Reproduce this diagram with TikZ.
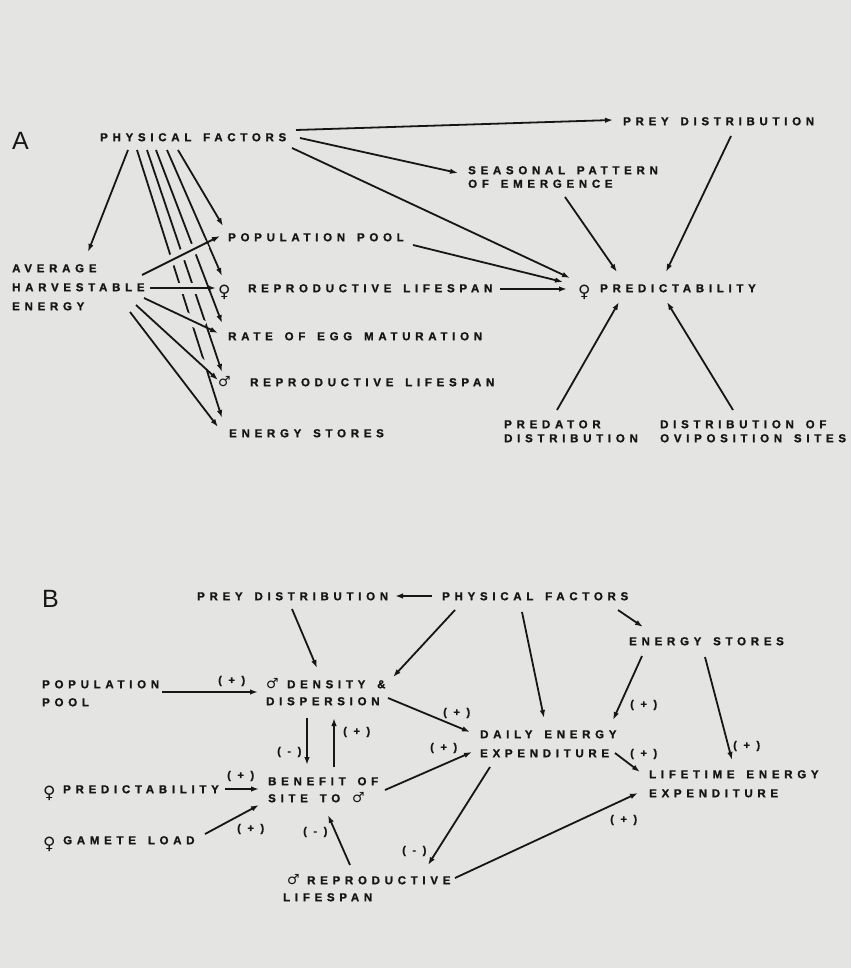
\documentclass[tikz,border=0pt]{standalone}
\usepackage{fontspec}
\setmainfont{Liberation Sans}
\newfontfamily\labfont{Liberation Sans Bold}[LetterSpace=41, FakeBold=1.2, WordSpace=1.5]
\newfontfamily\signfont{Liberation Sans Bold}[LetterSpace=60, FakeBold=1.2]
\newfontfamily\symfont{DejaVu Sans Bold}
\usetikzlibrary{arrows.meta}
\definecolor{bg}{HTML}{E4E4E2}
\definecolor{ink}{HTML}{161616}
\newcommand\femsign[1]{\makebox[#1][l]{\smash{\raisebox{-5.5pt}{\symfont\fontsize{17}{17}\selectfont ♀}}}}
\newcommand\malsign[1]{\makebox[#1][l]{\smash{\raisebox{-0.5pt}{\symfont\fontsize{14}{14}\selectfont ♂}}}}
\tikzset{
  lab/.style={inner sep=0pt, anchor=north west, align=left, text=ink,
    font=\labfont\fontsize{11.5}{#1}\selectfont},
  lab/.default=18,
  sgn/.style={inner sep=0pt, anchor=west, text=ink,
    font=\signfont\fontsize{11}{13}\selectfont},
  panel/.style={inner sep=0pt, anchor=north west, text=ink,
    font=\fontsize{25}{25}\selectfont},
  arr/.style={draw=ink, line width=1.8pt, -{Latex[length=8pt,width=5.5pt]}},
  gap/.style={preaction={draw=bg, line width=11pt, arrows=-, shorten >=15pt, shorten <=4pt}},
}
\begin{document}
\begin{tikzpicture}[x=1pt, y=-1pt]
\useasboundingbox (0,0) rectangle (851,968);
\fill[bg] (0,0) rectangle (851,968);

% ---------------- Panel A ----------------
\node[panel] (labA) at (12,132) {A};
\node[lab] (pfA) at (100,133) {PHYSICAL FACTORS};
\node[lab] (preyA) at (623,117) {PREY DISTRIBUTION};
\node[lab=13.5] (seasA) at (468,166) {SEASONAL PATTERN\\OF EMERGENCE};
\node[lab] (popA) at (228,233) {POPULATION POOL};
\node[lab=19] (avgA) at (12,264) {AVERAGE\\HARVESTABLE\\ENERGY};
\node[lab] (frlA) at (218,284) {\femsign{30pt}REPRODUCTIVE LIFESPAN};
\node[lab] (rateA) at (228,332) {RATE OF EGG MATURATION};
\node[lab] (mrlA) at (218,378) {\malsign{32pt}REPRODUCTIVE LIFESPAN};
\node[lab] (esA) at (229,429) {ENERGY STORES};
\node[lab] (fpredA) at (578,284) {\femsign{22pt}PREDICTABILITY};
\node[lab=14] (predA) at (504,420) {PREDATOR\\DISTRIBUTION};
\node[lab=14] (ovipA) at (660,420) {DISTRIBUTION OF\\OVIPOSITION SITES};

\draw[arr] ([shift={(196,-3)}]pfA.north west) -- ([shift={(-10,3)}]preyA.north west);
\draw[arr] ([shift={(200,5)}]pfA.north west) -- ([shift={(-10,7)}]seasA.north west);
\draw[arr] ([shift={(192,15)}]pfA.north west) -- ([shift={(-8,-6)}]fpredA.north west);
\draw[arr] ([shift={(185,12)}]popA.north west) -- ([shift={(-15,-2)}]fpredA.north west);
\draw[arr] ([shift={(282,5)}]frlA.north west) -- ([shift={(-11,5)}]fpredA.north west);
\draw[arr] ([shift={(97,31)}]seasA.north west) -- ([shift={(39,-12)}]fpredA.north west);
\draw[arr] ([shift={(108,19)}]preyA.north west) -- ([shift={(88,-12)}]fpredA.north west);
\draw[arr] ([shift={(53,-10)}]predA.north west) -- ([shift={(41,18)}]fpredA.north west);
\draw[arr] ([shift={(73,-10)}]ovipA.north west) -- ([shift={(89,18)}]fpredA.north west);
\draw[arr] ([shift={(28,17)}]pfA.north west) -- ([shift={(76,-12)}]avgA.north west);
% fan from physical factors
\draw[arr] ([shift={(78,17)}]pfA.north west) -- ([shift={(-5,-7)}]popA.north west);
\draw[arr] ([shift={(67,17)}]pfA.north west) -- ([shift={(4,-8)}]frlA.north west);
\draw[arr] ([shift={(56,17)}]pfA.north west) -- ([shift={(-6,-9)}]rateA.north west);
\draw[arr] ([shift={(47,17)}]pfA.north west) -- ([shift={(4,-6)}]mrlA.north west);
\draw[arr] ([shift={(37,17)}]pfA.north west) -- ([shift={(-7,-11)}]esA.north west);
% from average harvestable energy (crossing the fan)
\draw[arr,gap] ([shift={(130,11)}]avgA.north west) -- ([shift={(-8,3)}]popA.north west);
\draw[arr,gap] ([shift={(138,24)}]avgA.north west) -- ([shift={(-2,4)}]frlA.north west);
\draw[arr,gap] ([shift={(132,34)}]avgA.north west) -- ([shift={(-10,1)}]rateA.north west);
\draw[arr,gap] ([shift={(124,41)}]avgA.north west) -- ([shift={(0,2)}]mrlA.north west);
\draw[arr,gap] ([shift={(118,48)}]avgA.north west) -- ([shift={(-11,-2)}]esA.north west);

% ---------------- Panel B ----------------
\node[panel] (labB) at (42,590) {B};
\node[lab] (preyB) at (197,592) {PREY DISTRIBUTION};
\node[lab] (pfB) at (442,592) {PHYSICAL FACTORS};
\node[lab=17] (dens) at (266,680) {\malsign{21pt}DENSITY \&\\DISPERSION};
\node[lab=18] (popB) at (42,680) {POPULATION\\POOL};
\node[lab] (esB) at (629,637) {ENERGY STORES};
\node[lab=19] (daily) at (480,730) {DAILY ENERGY\\EXPENDITURE};
\node[lab=19] (life) at (649,770) {LIFETIME ENERGY\\EXPENDITURE};
\node[lab=17] (ben) at (268,777) {BENEFIT OF\\SITE TO \malsign{10pt}};
\node[lab] (fpredB) at (43,785) {\femsign{20pt}PREDICTABILITY};
\node[lab] (gam) at (43,836) {\femsign{20pt}GAMETE LOAD};
\node[lab=17] (mrlB) at (283,876) {\hspace*{4pt}\malsign{20pt}REPRODUCTIVE\\LIFESPAN};

\draw[arr] ([shift={(-10,4)}]pfB.north west) -- ([shift={(198,4)}]preyB.north west);
\draw[arr] ([shift={(95,17)}]preyB.north west) -- ([shift={(51,-12)}]dens.north west);
\draw[arr] ([shift={(13,18)}]pfB.north west) -- ([shift={(127,-3)}]dens.north west);
\draw[arr] ([shift={(80,20)}]pfB.north west) -- ([shift={(64,-12)}]daily.north west);
\draw[arr] ([shift={(176,18)}]pfB.north west) -- ([shift={(14,-10)}]esB.north west);
\draw[arr] ([shift={(13,19)}]esB.north west) -- ([shift={(133,-10)}]daily.north west);
\draw[arr] ([shift={(76,20)}]esB.north west) -- ([shift={(83,-10)}]life.north west);
\draw[arr] ([shift={(135,23)}]daily.north west) -- ([shift={(-9,2)}]life.north west);
\draw[arr] ([shift={(122,18)}]dens.north west) -- ([shift={(-10,2)}]daily.north west);
\draw[arr] ([shift={(120,12)}]popB.north west) -- ([shift={(-8,12)}]dens.north west);
\draw[arr] ([shift={(41,38)}]dens.north west) -- ([shift={(39,-12)}]ben.north west);
\draw[arr] ([shift={(66,-10)}]ben.north west) -- ([shift={(68,38)}]dens.north west);
\draw[arr] ([shift={(182,4)}]fpredB.north west) -- ([shift={(-9,12)}]ben.north west);
\draw[arr] ([shift={(162,-2)}]gam.north west) -- ([shift={(-9,28)}]ben.north west);
\draw[arr] ([shift={(67,-11)}]mrlB.north west) -- ([shift={(60,38)}]ben.north west);
\draw[arr] ([shift={(117,13)}]ben.north west) -- ([shift={(-8,22)}]daily.north west);
\draw[arr] ([shift={(10,37)}]daily.north west) -- ([shift={(145,-11)}]mrlB.north west);
\draw[arr] ([shift={(172,2)}]mrlB.north west) -- ([shift={(-11,23)}]life.north west);

\node[sgn] (s1) at (218,681) {(+)};
\node[sgn] (s2) at (277,752) {(-)};
\node[sgn] (s3) at (343,732) {(+)};
\node[sgn] (s4) at (227,776) {(+)};
\node[sgn] (s5) at (237,829) {(+)};
\node[sgn] (s6) at (303,832) {(-)};
\node[sgn] (s7) at (443,713) {(+)};
\node[sgn] (s8) at (430,748) {(+)};
\node[sgn] (s9) at (402,851) {(-)};
\node[sgn] (s10) at (630,705) {(+)};
\node[sgn] (s11) at (733,746) {(+)};
\node[sgn] (s12) at (630,754) {(+)};
\node[sgn] (s13) at (610,820) {(+)};
\end{tikzpicture}
\end{document}
